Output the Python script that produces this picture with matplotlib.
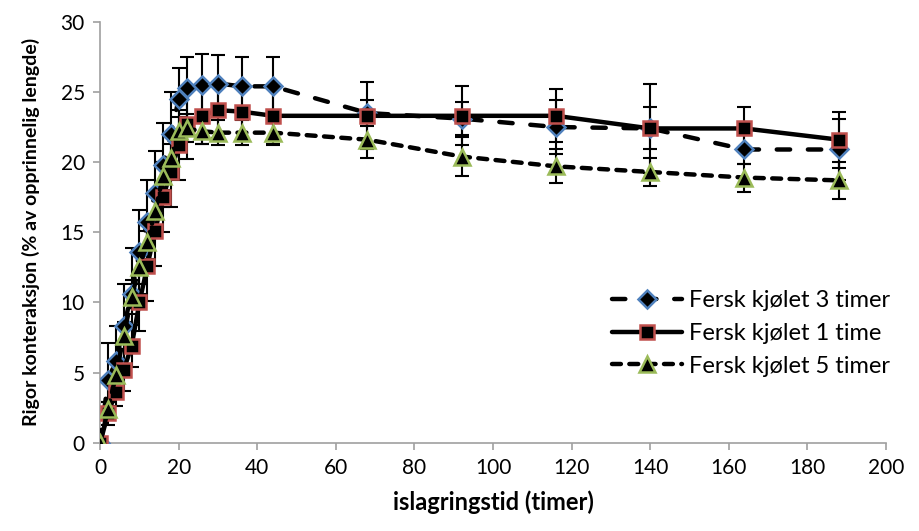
import matplotlib
matplotlib.use("Agg")
from matplotlib import pyplot as plt

plt.rcParams['font.family'] = ['Lato', 'DejaVu Sans']

# data
hours = [0, 2, 4, 6, 8, 10, 12, 14, 16, 18, 20, 22, 26, 30, 36, 44, 68, 92, 116, 140, 164, 188]

chill3 = [0, 4.5, 5.8, 8.3, 10.6, 13.6, 15.7, 17.8, 19.8, 22.0, 24.5, 25.3, 25.5, 25.6, 25.4, 25.4,
          23.5, 23.1, 22.5, 22.4, 20.9, 20.9]
chill3_err = [0, 2.6, 2.5, 3.0, 3.3, 3.0, 3.0, 3.0, 3.0, 3.0, 2.2, 2.2, 2.2, 2.0, 2.1, 2.1,
              0.9, 1.2, 1.9, 1.5, 1.0, 2.2]

chill1 = [0, 2.1, 3.6, 5.2, 6.9, 10.0, 12.6, 15.1, 17.5, 19.3, 21.2, 22.7, 23.3, 23.7, 23.6, 23.3,
          23.3, 23.3, 23.3, 22.4, 22.4, 21.6]
chill1_err = [0, 0.8, 1.0, 1.5, 1.5, 2.0, 2.5, 2.5, 2.5, 2.5, 2.5, 2.5, 2.0, 2.0, 2.0, 2.0,
              2.4, 2.1, 1.9, 3.2, 1.5, 2.0]

chill5 = [0, 2.4, 4.8, 7.6, 10.4, 12.5, 14.3, 16.5, 19.0, 20.3, 22.2, 22.4, 22.2, 22.1, 22.1, 22.1,
          21.6, 20.4, 19.7, 19.3, 18.9, 18.7]
chill5_err = [0, 0.5, 0.8, 1.0, 1.2, 1.2, 1.2, 1.2, 1.0, 1.0, 1.0, 1.0, 0.9, 0.9, 0.9, 0.9,
              1.3, 1.4, 1.2, 1.0, 1.0, 1.3]

labels = ["Fersk kjølet 3 timer", "Fersk kjølet 1 time", "Fersk kjølet 5 timer"]

fig = plt.figure(figsize=(9.19, 5.31), dpi=100)
ax = fig.add_axes([0.109, 0.166, 0.855, 0.793])

# error bars first, lines and markers over them
for y, e in [(chill3, chill3_err), (chill1, chill1_err), (chill5, chill5_err)]:
    ax.errorbar(hours, y, yerr=e, fmt='none', ecolor='black', elinewidth=1.5,
                capsize=5, capthick=1.5, zorder=2)

ax.plot(hours, chill3, color='black', linewidth=3.2, dashes=(3.0, 4.0), dash_capstyle='round',
        marker='D', markersize=9.5, markerfacecolor='black', markeredgecolor='#4F81BD',
        markeredgewidth=1.8, label=labels[0], zorder=3)
ax.plot(hours, chill1, color='black', linewidth=3.2, solid_capstyle='round',
        marker='s', markersize=10, markerfacecolor='black', markeredgecolor='#C0504D',
        markeredgewidth=1.8, label=labels[1], zorder=3)
ax.plot(hours, chill5, color='black', linewidth=3.2, dashes=(2.0, 1.9), dash_capstyle='round',
        marker='^', markersize=11, markerfacecolor='black', markeredgecolor='#9BBB59',
        markeredgewidth=1.8, label=labels[2], zorder=3)

ax.set_xlim(0, 200)
ax.set_ylim(0, 30)
ax.set_xticks(range(0, 201, 20))
ax.set_yticks(range(0, 31, 5))
ax.tick_params(axis='both', direction='out', length=5, width=1.2, color='#A0A0A0',
               labelsize=15, pad=6)
for s in ['top', 'right']:
    ax.spines[s].set_visible(False)
for s in ['left', 'bottom']:
    ax.spines[s].set_color('#A0A0A0')
    ax.spines[s].set_linewidth(1.2)

ax.set_xlabel("islagringstid (timer)", fontsize=17, fontweight='bold', labelpad=9)
ax.set_ylabel("Rigor konteraksjon (% av opprinnelig lengde)", fontsize=14,
              fontweight='bold', labelpad=15)

ax.legend(loc='center right', bbox_to_anchor=(1.033, 0.26), frameon=False, fontsize=17,
          handlelength=3.0, labelspacing=0.5, handletextpad=0.3)

fig.savefig("out.png", dpi=100)
